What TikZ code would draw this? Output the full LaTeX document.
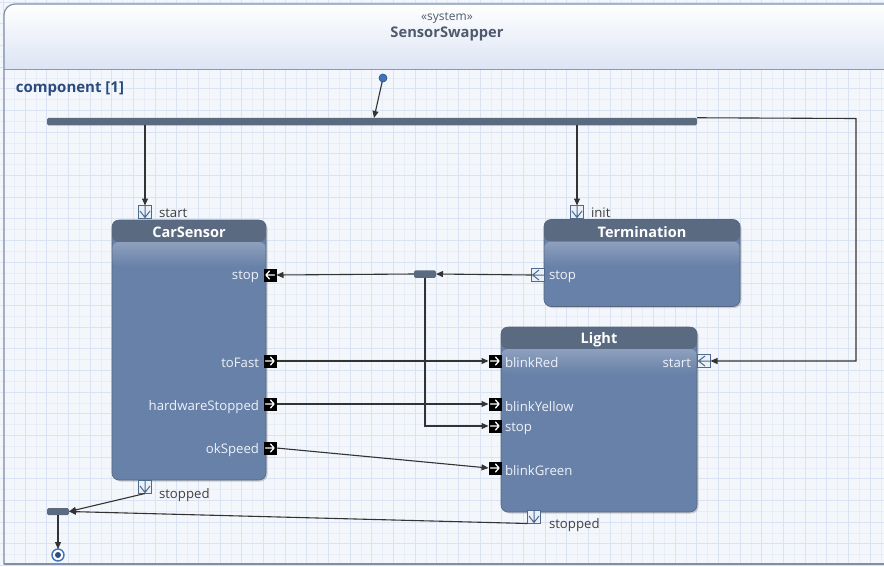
\documentclass[tikz,border=0pt]{standalone}
\usepackage{fontspec}
\setmainfont{Open Sans}
\usetikzlibrary{arrows.meta,shadows}

\definecolor{canvasbg}{HTML}{F3F6FB}
\definecolor{gridminor}{HTML}{E8EDF7}
\definecolor{gridmajor}{HTML}{DAE3F3}
\definecolor{framecol}{HTML}{7F8FA8}
\definecolor{headbot}{HTML}{DCE4F3}
\definecolor{headtext}{HTML}{4F5A6E}
\definecolor{comptext}{HTML}{2B4B7B}
\definecolor{stdark}{HTML}{5A6A80}
\definecolor{stband}{HTML}{8EA0BE}
\definecolor{stbody}{HTML}{6881A8}
\definecolor{stborder}{HTML}{56677F}
\definecolor{barcol}{HTML}{5A6B80}
\definecolor{portline}{HTML}{4E6A8C}
\definecolor{portfill}{HTML}{EAF0F8}
\definecolor{outtext}{HTML}{404040}
\definecolor{intext}{HTML}{EEF2F8}
\definecolor{dotfill}{HTML}{3F74B8}
\definecolor{dotline}{HTML}{2A4F85}
\definecolor{wirecol}{HTML}{333333}

\tikzset{
  every node/.style={inner sep=0pt, outer sep=0pt},
  statebox/.style={rectangle, rounded corners=7pt, fill=stbody, draw=stborder, line width=0.6pt,
    drop shadow={shadow xshift=1.5pt, shadow yshift=-1.5pt, opacity=0.35},
    path picture={
      \fill[stdark] (path picture bounding box.north west) rectangle ([yshift=-22pt]path picture bounding box.north east);
      \shade[top color=stband, bottom color=stbody] ([yshift=-22pt]path picture bounding box.north west) rectangle ([yshift=-47pt]path picture bounding box.north east);
    }},
  boxtitle/.style={text=white, font=\bfseries\fontsize{14.5}{16}\selectfont, yshift=-1pt},
  inlabel/.style={text=intext, font=\fontsize{13.2}{15}\selectfont, yshift=-2pt},
  outlabel/.style={text=outtext, font=\fontsize{13.2}{15}\selectfont, yshift=-2pt},
  port/.style={rectangle, minimum width=13pt, minimum height=13pt},
  blackin/.style={port, fill=black,
    path picture={
      \draw[white, line width=1.3pt, line cap=round, line join=round]
        ([xshift=-4.5pt]path picture bounding box.center) -- ([xshift=4pt]path picture bounding box.center)
        ([xshift=0.5pt,yshift=4pt]path picture bounding box.center) -- ([xshift=4pt]path picture bounding box.center) -- ([xshift=0.5pt,yshift=-4pt]path picture bounding box.center);
    }},
  blackleft/.style={port, fill=black,
    path picture={
      \draw[white, line width=1.3pt, line cap=round, line join=round]
        ([xshift=4.5pt]path picture bounding box.center) -- ([xshift=-4pt]path picture bounding box.center)
        ([xshift=-0.5pt,yshift=4pt]path picture bounding box.center) -- ([xshift=-4pt]path picture bounding box.center) -- ([xshift=-0.5pt,yshift=-4pt]path picture bounding box.center);
    }},
  pointdown/.style={port, fill=portfill, draw=portline, line width=0.8pt,
    path picture={
      \draw[portline, line width=1pt, line join=round]
        ([yshift=6.5pt]path picture bounding box.center) -- ([yshift=-5.5pt]path picture bounding box.center)
        ([xshift=-5pt,yshift=1pt]path picture bounding box.center) -- ([yshift=-5.5pt]path picture bounding box.center) -- ([xshift=5pt,yshift=1pt]path picture bounding box.center);
    }},
  pointleft/.style={port, fill=portfill, draw=portline, line width=0.8pt,
    path picture={
      \draw[portline, line width=1pt, line join=round]
        ([xshift=6.5pt]path picture bounding box.center) -- ([xshift=-5.5pt]path picture bounding box.center)
        ([xshift=1pt,yshift=5pt]path picture bounding box.center) -- ([xshift=-5.5pt]path picture bounding box.center) -- ([xshift=1pt,yshift=-5pt]path picture bounding box.center);
    }},
  joinbar/.style={rectangle, fill=barcol, rounded corners=1.5pt},
  wire/.style={draw=wirecol, line width=1.1pt, -{Triangle[length=7pt,width=6pt]}},
}

\begin{document}
\begin{tikzpicture}[x=1pt,y=-1pt]
\useasboundingbox (0,0) rectangle (884,566);
\clip (0,0) rectangle (884,566);

% canvas and grid
\fill[canvasbg] (0,0) rectangle (884,566);
\foreach \k in {0,...,82} {
  \draw[gridminor, line width=0.6pt] ({3.3+10.835*\k},0) -- ({3.3+10.835*\k},566);
}
\foreach \k in {0,...,53} {
  \draw[gridminor, line width=0.6pt] (0,{2+10.835*\k}) -- (884,{2+10.835*\k});
}
\foreach \k in {0,...,41} {
  \draw[gridmajor, line width=0.7pt] ({3.3+21.67*\k},0) -- ({3.3+21.67*\k},566);
}
\foreach \k in {0,...,26} {
  \draw[gridmajor, line width=0.7pt] (0,{2+21.67*\k}) -- (884,{2+21.67*\k});
}

% system frame with header
\begin{scope}
  \clip[rounded corners=11pt] (4,4) rectangle (896,600);
  \shade[top color=white, bottom color=headbot] (4,4) rectangle (896,69);
\end{scope}
\draw[framecol, line width=1.2pt] (4,564) [rounded corners=11pt] -- (4,4) -- (896,4);
\draw[framecol, line width=1.2pt] (4,564) -- (896,564);
\draw[framecol!90, line width=1pt] (4,69) -- (896,69);

\node[text=headtext, font=\fontsize{12}{13}\selectfont] (stereo) at (447,18) {«system»};
\node[text=headtext, font=\bfseries\fontsize{14.7}{16}\selectfont] (sysname) at (447,34) {SensorSwapper};
\node[text=comptext, font=\bfseries\fontsize{15}{17}\selectfont, anchor=west] (region) at (16,88.5) {component [1]};

% states
\node[statebox, minimum width=154pt, minimum height=260pt] (car) at (189,350) {};
\node[boxtitle] (cart) at (189,231) {CarSensor};
\node[statebox, minimum width=196pt, minimum height=87pt] (term) at (642,263) {};
\node[boxtitle] (termt) at (642,231) {Termination};
\node[statebox, minimum width=196pt, minimum height=185pt] (light) at (599,419.5) {};
\node[boxtitle] (lightt) at (599,339) {Light};

% pseudostates
\node[circle, fill=dotfill, draw=dotline, line width=0.6pt, minimum size=8pt] (init) at (383,78) {};
\node[joinbar, minimum width=650pt, minimum height=7.5pt] (fork) at (372,121.5) {};
\node[joinbar, minimum width=22pt, minimum height=7.5pt] (stopjoin) at (425,274) {};
\node[joinbar, minimum width=22pt, minimum height=7pt] (endjoin) at (58,511.5) {};
\node[circle, draw=dotfill, fill=white, line width=1.4pt, minimum size=12pt] (final) at (58,555) {};
\node[circle, fill=dotline, minimum size=6pt] (finaldot) at (58,555) {};

% ports of CarSensor
\node[pointdown] (carstart) at (145,212) {};
\node[outlabel, anchor=west] (carstartl) at (159,211) {start};
\node[blackleft] (carstop) at (270,275) {};
\node[inlabel, anchor=east] (carstopl) at (259,275) {stop};
\node[blackin] (tofast) at (270,361) {};
\node[inlabel, anchor=east] (tofastl) at (259,361) {toFast};
\node[blackin] (hwstop) at (270,404) {};
\node[inlabel, anchor=east] (hwstopl) at (259,405) {hardwareStopped};
\node[blackin] (okspeed) at (270,448) {};
\node[inlabel, anchor=east] (okspeedl) at (259,448) {okSpeed};
\node[pointdown] (carstopped) at (145,487) {};
\node[outlabel, anchor=west] (carstoppedl) at (159,493) {stopped};

% ports of Termination
\node[pointdown] (terminit) at (577,212) {};
\node[outlabel, anchor=west] (terminitl) at (591,211) {init};
\node[pointleft] (termstop) at (538,275) {};
\node[inlabel, anchor=west] (termstopl) at (549,275) {stop};

% ports of Light
\node[blackin] (blinkred) at (495,361) {};
\node[inlabel, anchor=west] (blinkredl) at (505,361) {blinkRed};
\node[blackin] (blinkyellow) at (495,404) {};
\node[inlabel, anchor=west] (blinkyellowl) at (505,405) {blinkYellow};
\node[blackin] (lightstop) at (495,426) {};
\node[inlabel, anchor=west] (lightstopl) at (505,427) {stop};
\node[blackin] (blinkgreen) at (495,468) {};
\node[inlabel, anchor=west] (blinkgreenl) at (505,469) {blinkGreen};
\node[pointleft] (lightstart) at (704,361) {};
\node[inlabel, anchor=east] (lightstartl) at (691,361) {start};
\node[pointdown] (lightstopped) at (534,517) {};
\node[outlabel, anchor=west] (lightstoppedl) at (549,523) {stopped};

% transitions
\coordinate (forkin) at (374,118);
\coordinate (rightturn) at (856,118.5);
\draw[wire] (init) -- (forkin);
\draw[wire] (carstart |- fork.south) -- (carstart.north);
\draw[wire] (terminit |- fork.south) -- (terminit.north);
\draw[wire] (fork.north east) -- (rightturn) |- (lightstart.east);

\draw[wire] (termstop.west) -- (stopjoin.east);
\draw[wire] (stopjoin.west) -- (carstop.east);
\draw[wire] (stopjoin.south) |- (lightstop.west);

\draw[wire] (tofast.east) -- (blinkred.west);
\draw[wire] (hwstop.east) -- (blinkyellow.west);
\draw[wire] (okspeed.east) -- (blinkgreen.west);

\draw[wire] (carstopped.south) -- (endjoin.east);
\draw[wire] (lightstopped.south west) -- (endjoin.east);
\draw[wire] (endjoin.south) -- (final.north);
\end{tikzpicture}
\end{document}
